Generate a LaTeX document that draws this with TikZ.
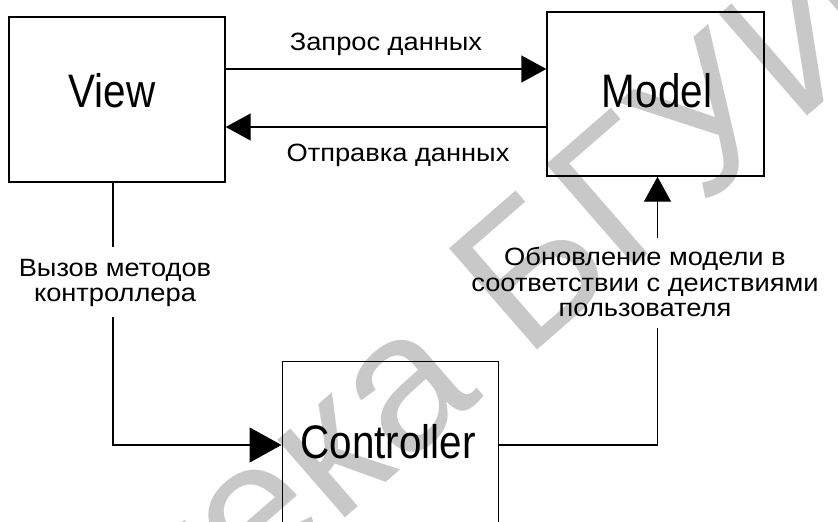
\documentclass[tikz,border=0pt]{standalone}
\usepackage{fontspec}
\setmainfont{Liberation Sans}
\newfontfamily\boxfont[FakeStretch=0.86]{Liberation Sans}
\newfontfamily\lblfont[FakeStretch=1.09]{Liberation Sans}
\newfontfamily\wmfont{Liberation Sans}
\usetikzlibrary{arrows.meta,calc}
\definecolor{wmgray}{RGB}{200,200,200}
\begin{document}
\begin{tikzpicture}[x=1pt,y=-1pt,
  box/.style={draw, line width=1.4pt, inner sep=0pt},
  boxtext/.style={font=\boxfont\fontsize{47}{50}\selectfont, inner sep=0pt, anchor=base},
  lbl/.style={font=\lblfont\fontsize{25}{25.5}\selectfont, inner sep=0pt, align=center},
  conn/.style={line width=1.4pt},
  tip/.style={-{Triangle[length=25pt,width=27pt]}},
  bigtip/.style={-{Triangle[length=32pt,width=35pt]}},
  wm/.style={font=\wmfont\fontsize{195}{195}\selectfont, text=wmgray, inner sep=0pt, rotate=41}
]
\useasboundingbox (0,0) rectangle (838,522);
\clip (0,0) rectangle (838,522);
% watermark
\node[wm, anchor=base west] (wm2) at (525.6,360.8) {БГУИР};
\node[wm, anchor=base east] (wm1) at (484.7,396.4) {Библиотека};
% boxes
\node[box, minimum width=216pt, minimum height=165pt] (view) at (117,99.5) {};
\node[box, minimum width=217pt, minimum height=164pt] (model) at (655.5,94) {};
\node[box, minimum width=216.5pt, minimum height=220pt, anchor=north west] (ctrl) at (281.5,361) {};
\node[boxtext] (viewt) at (112,107) {View};
\node[boxtext] (modelt) at (657,107) {Model};
\node[boxtext] (ctrlt) at (388,458) {Controller};
% labels
\node[lbl, anchor=base] (req) at (386,50) {Запрос данных};
\node[lbl, anchor=base] (resp) at (398,161) {Отправка данных};
\node[lbl, anchor=north] (call) at (115,259) {Вызов методов\\контроллера};
\node[lbl, anchor=north] (upd) at (645,247) {Обновление модели в\\соответствии с деиствиями\\пользователя};
% connectors
\draw[conn, tip] (view.east |- 0,69) -- (model.west |- 0,69);
\draw[conn, tip] (model.west |- 0,127) -- (view.east |- 0,127);
\coordinate (c1) at (113,247);
\coordinate (c2) at (113,317);
\draw[conn] (view.south -| c1) -- (c1);
\draw[conn, bigtip] (c2) -- (113,445) -- (ctrl.west |- 0,445);
\coordinate (u1) at (657.5,328);
\coordinate (u2) at (657.5,238);
\draw[conn] (ctrl.east |- 0,445) -- (657.5,445) -- (u1);
\draw[conn, tip] (u2) -- (model.south -| u2);
\end{tikzpicture}
\end{document}
